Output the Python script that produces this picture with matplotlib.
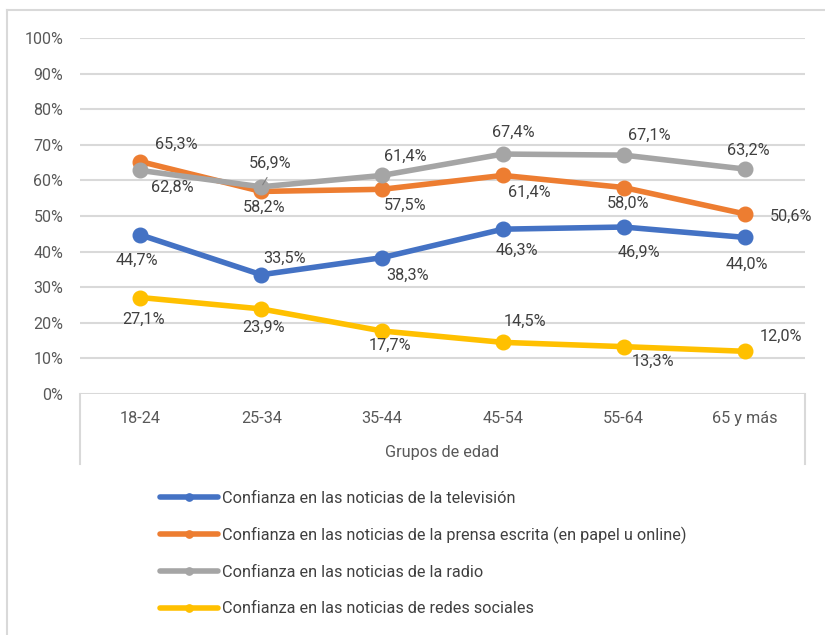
import matplotlib
matplotlib.use("Agg")
import matplotlib.pyplot as plt
from matplotlib.lines import Line2D

categories = ["18-24", "25-34", "35-44", "45-54", "55-64", "65 y más"]
tv = [44.7, 33.5, 38.3, 46.3, 46.9, 44.0]
prensa = [65.3, 56.9, 57.5, 61.4, 58.0, 50.6]
radio = [62.8, 58.2, 61.4, 67.4, 67.1, 63.2]
redes = [27.1, 23.9, 17.7, 14.5, 13.3, 12.0]
series_names = [
    "Confianza en las noticias de la televisión",
    "Confianza en las noticias de la prensa escrita (en papel u online)",
    "Confianza en las noticias de la radio",
    "Confianza en las noticias de redes sociales",
]
y_ticks = [0, 10, 20, 30, 40, 50, 60, 70, 80, 90, 100]
x_title = "Grupos de edad"

colors = ["#4472C4", "#ED7D31", "#A5A5A5", "#FFC000"]
# label offsets (pixels) per series
offsets = [
    [(-3, -25), (23, 16), (25, -18), (14, -21), (15, -25), (2, -27)],
    [(36, 17), (9, 28), (23, -16), (26, -17), (4, -16), (46, -2)],
    [(32, -17), (3, -21), (23, 19), (10, 22), (26, 20), (4, 19)],
    [(3, -22), (2, -18), (8, -14), (22, 21), (29, -15), (36, 15)],
]

plt.rcParams["font.family"] = ["Roboto", "DejaVu Sans"]
W, H = 825, 635
fig = plt.figure(figsize=(W / 100, H / 100), dpi=100)
fig.patch.set_facecolor("white")

# outer border (only top & left visible in crop)
fig.add_artist(Line2D([7 / W, 7 / W], [0, 1 - 10 / H], transform=fig.transFigure, color="#d9d9d9", lw=1.5))
fig.add_artist(Line2D([7 / W, 1], [1 - 10 / H, 1 - 10 / H], transform=fig.transFigure, color="#d9d9d9", lw=1.5))

ax = fig.add_axes([80 / W, 1 - 394 / H, (805 - 80) / W, (394 - 38) / H])
x = list(range(len(categories)))
all_series = [tv, prensa, radio, redes]
text_color = "#404040"
for vals, col, name in zip(all_series, colors, series_names):
    ax.plot(x, vals, color=col, lw=4.0, marker="o", markersize=10.5, label=name,
            solid_capstyle="round", zorder=3)

for vals, offs in zip(all_series, offsets):
    for xi, v, off in zip(x, vals, offs):
        ax.annotate(f"{v:.1f}%".replace(".", ","), (xi, v), xytext=off,
                    textcoords="offset pixels", ha="center", va="center",
                    fontsize=11.7, color=text_color, zorder=5)

# leader line for 56,9%
ax.annotate("", xy=(x[1], prensa[1] + 1.2), xytext=(x[1] + 0.06, prensa[1] + 4.6),
            arrowprops=dict(arrowstyle="-", color="#808080", lw=0.8), zorder=4)

ax.set_xlim(-0.5, len(categories) - 0.5)
ax.set_ylim(0, 100)
ax.set_yticks(y_ticks)
ax.set_yticklabels([f"{t}%" for t in y_ticks], fontsize=11.5, color="#595959")
ax.set_xticks(x)
ax.set_xticklabels(categories, fontsize=11.7, color="#595959")
ax.tick_params(axis="both", length=0)
ax.tick_params(axis="y", pad=12)
ax.tick_params(axis="x", pad=12.5)
for s in ax.spines.values():
    s.set_visible(False)
ax.grid(axis="y", color="#d9d9d9", lw=1.5)
ax.set_axisbelow(True)

# category box lines
box_h = 70 / (394 - 38)
for xa in (0, 1):
    ax.add_line(Line2D([xa, xa], [0, -box_h], transform=ax.transAxes, color="#d9d9d9", lw=1.5, clip_on=False))

fig.text(442 / W, 1 - 452 / H, x_title, ha="center", va="center", fontsize=11.7, color="#595959")

leg = fig.legend(loc="upper left", bbox_to_anchor=(145.5 / W, 1 - 476 / H), frameon=False,
                 fontsize=11.7, handlelength=3.57, handletextpad=0.25, labelspacing=1.3,
                 markerscale=0.5, labelcolor="#404040")

fig.savefig("out.png", dpi=100)
